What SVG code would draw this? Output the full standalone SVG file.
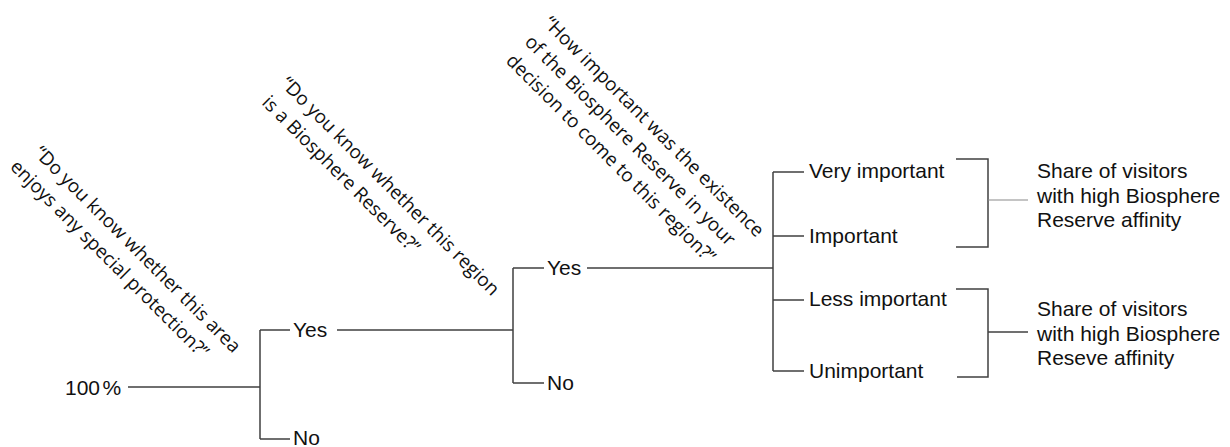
<svg xmlns="http://www.w3.org/2000/svg" width="1230" height="447" viewBox="0 0 1230 447">
<style>
.ln{stroke:#404040;stroke-width:1.5;fill:none}
.lt{stroke:#8a8a8a;stroke-width:1.2;fill:none}
.t{font-family:"Liberation Sans",Arial,sans-serif;font-size:21px;fill:#111}
.q{font-family:"Open Sans","Noto Sans",sans-serif;font-size:19px;fill:#111}
</style>
<rect width="1230" height="447" fill="#fff"/>
<g id="connectors">
<path class="ln" d="M128,387H260M260,330V439M260,330H290M260,439H290"/>
<path class="ln" d="M337,330H513M513,268V383M513,268H544M513,383H544"/>
<path class="ln" d="M587,268H773M773,172V371M773,172H804M773,236H804M773,300H804M773,371H804"/>
<path class="ln" d="M956,159H988V247H956"/>
<path class="lt" d="M988,200H1028"/>
<path class="ln" d="M956,289H988V377H957"/>
<path class="ln" d="M988,332H1028"/>
</g>
<g id="n-root"><text class="t" x="65" y="395">100<tspan dx="2.5">%</tspan></text></g>
<g id="n-yes1"><text class="t" x="293" y="337">Yes</text></g>
<g id="n-no1"><text class="t" x="293" y="445">No</text></g>
<g id="n-yes2"><text class="t" x="547" y="275">Yes</text></g>
<g id="n-no2"><text class="t" x="547" y="390">No</text></g>
<g id="n-very"><text class="t" x="809" y="178">Very important</text></g>
<g id="n-imp"><text class="t" x="809" y="243">Important</text></g>
<g id="n-less"><text class="t" x="809" y="306">Less important</text></g>
<g id="n-unimp"><text class="t" x="809" y="378">Unimportant</text></g>
<g id="n-share1"><text class="t"><tspan x="1037" y="178">Share of visitors</tspan><tspan x="1037" y="202.5">with high Biosphere</tspan><tspan x="1037" y="227">Reserve affinity</tspan></text></g>
<g id="n-share2"><text class="t"><tspan x="1037" y="316">Share of visitors</tspan><tspan x="1037" y="340.5">with high Biosphere</tspan><tspan x="1037" y="365">Reseve affinity</tspan></text></g>
<g id="q1" transform="translate(33,154) rotate(45)"><text class="q"><tspan x="0" y="0">“Do you know whether this area</tspan><tspan x="-7" y="26.5">enjoys any special protection?”</tspan></text></g>
<g id="q2" transform="translate(279.7,84.8) rotate(45)"><text class="q"><tspan x="0" y="0">“Do you know whether this region</tspan><tspan x="0" y="26.5">is a Biosphere Reserve?”</tspan></text></g>
<g id="q3" transform="translate(542.5,24.3) rotate(45)"><text class="q"><tspan x="0" y="0">“How important was the existence</tspan><tspan x="0" y="26.5">of the Biosphere Reserve in your</tspan><tspan x="0" y="53">decision to come to this region?”</tspan></text></g>
</svg>
